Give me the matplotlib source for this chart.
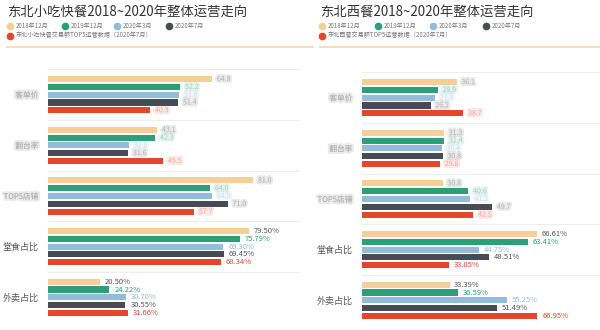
import matplotlib.pyplot as plt
import matplotlib.patheffects as pe

plt.rcParams['font.family'] = ['Noto Sans CJK SC', 'DejaVu Sans']

# data
series = ["2018年12月", "2019年12月", "2020年3月", "2020年7月"]
top5_left = "东北小吃快餐交易额TOP5运营数据（2020年7月）"
top5_right = "东北西餐交易额TOP5运营数据（2020年7月）"
colors = ["#F5CF98", "#2E9E78", "#93BBDA", "#464B56", "#E4462B"]
label_colors = ["#555555", "#2E9E78", "#93BBDA", "#555555", "#E4462B"]

categories = ["客单价", "翻台率", "TOP5店铺", "堂食占比", "外卖占比"]

left_vals = [
    [64.8, 43.1, 81.0, 79.50, 20.50],
    [52.2, 42.3, 64.0, 75.79, 24.22],
    [51.8, 32.0, 64.8, 69.30, 30.70],
    [51.4, 31.6, 71.0, 69.45, 30.55],
    [40.3, 45.5, 57.7, 68.34, 31.66],
]
right_vals = [
    [36.1, 31.3, 30.8, 66.61, 33.39],
    [28.9, 31.4, 40.6, 63.41, 36.59],
    [27.9, 30.4, 41.2, 44.75, 55.25],
    [26.2, 30.8, 49.7, 48.51, 51.49],
    [38.7, 29.8, 42.5, 33.05, 66.95],
]
n_blur = 3  # first three groups are blurred in the original

fig = plt.figure(figsize=(6, 3.3), dpi=100)
bg = fig.add_axes([0, 0, 1, 1])
bg.set_xlim(0, 600)
bg.set_ylim(330, 0)
bg.axis("off")


def header(x0, title, top5, xs):
    bg.text(x0, 12, title, fontsize=9.6, color="#333333", va="center", ha="left")
    for x, name, c in zip(xs, series, colors):
        bg.plot(x, 25.5, "o", ms=4.5, color=c)
        bg.text(x + 6, 25.5, name, fontsize=4.4, color="#777777", va="center")
    bg.plot(xs[0], 35.5, "o", ms=4.5, color=colors[4])
    bg.text(xs[0] + 6, 35.5, top5, fontsize=4.4, color="#777777", va="center")


header(7, "东北小吃快餐2018~2020年整体运营走向", top5_left, [10, 65, 117, 169])
header(320, "东北西餐2018~2020年整体运营走向", top5_right, [322, 378, 433, 486])
bg.plot([7, 313], [47, 47], color="#F8DDB8", lw=1.5)
bg.plot([320, 600], [47, 47], color="#F8DDB8", lw=1.5)

gap = 6.5


def soft(c):
    return [pe.withStroke(linewidth=3, foreground=c, alpha=0.12)]


def panel(rect, vals, xmax):
    ax = fig.add_axes(rect)
    for k, row in enumerate(vals):
        ys = [g * gap + k for g in range(len(categories))]
        ax.barh(ys, row, height=0.78, color=colors[k])
        for g, (y, v) in enumerate(zip(ys, row)):
            if g < n_blur:
                ax.text(v + xmax * 0.02, y, f"{v:.1f}", fontsize=5, color=label_colors[k],
                        va="center", alpha=0.3, path_effects=soft(label_colors[k]))
            else:
                ax.text(v + xmax * 0.02, y, f"{v:.2f}%", fontsize=5.5, color=label_colors[k],
                        va="center")
    for g in range(len(categories)):
        ax.axhline(g * gap - 1.25, color="#eeeeee", lw=0.8)
    ax.set_yticks([g * gap + 2 for g in range(len(categories))])
    ax.set_yticklabels(categories, fontsize=6.5, color="#555555")
    for g, t in enumerate(ax.get_yticklabels()):
        if g < n_blur:
            t.set_alpha(0.4)
            t.set_fontsize(5.5)
            t.set_path_effects(soft("#555555"))
    ax.tick_params(axis="y", length=0, pad=7)
    ax.set_xticks([])
    ax.set_xlim(0, xmax)
    ax.set_ylim(len(categories) * gap - 1.25 + 0.3, -1.55)
    for s in ax.spines.values():
        s.set_visible(False)
    ax.patch.set_alpha(0)
    return ax


panel([48 / 600, 5 / 330, 252 / 600, 258 / 330], left_vals, 99.6)
panel([362 / 600, 2 / 330, 238 / 600, 258 / 330], right_vals, 90.8)

fig.savefig("out.png", dpi=100)
